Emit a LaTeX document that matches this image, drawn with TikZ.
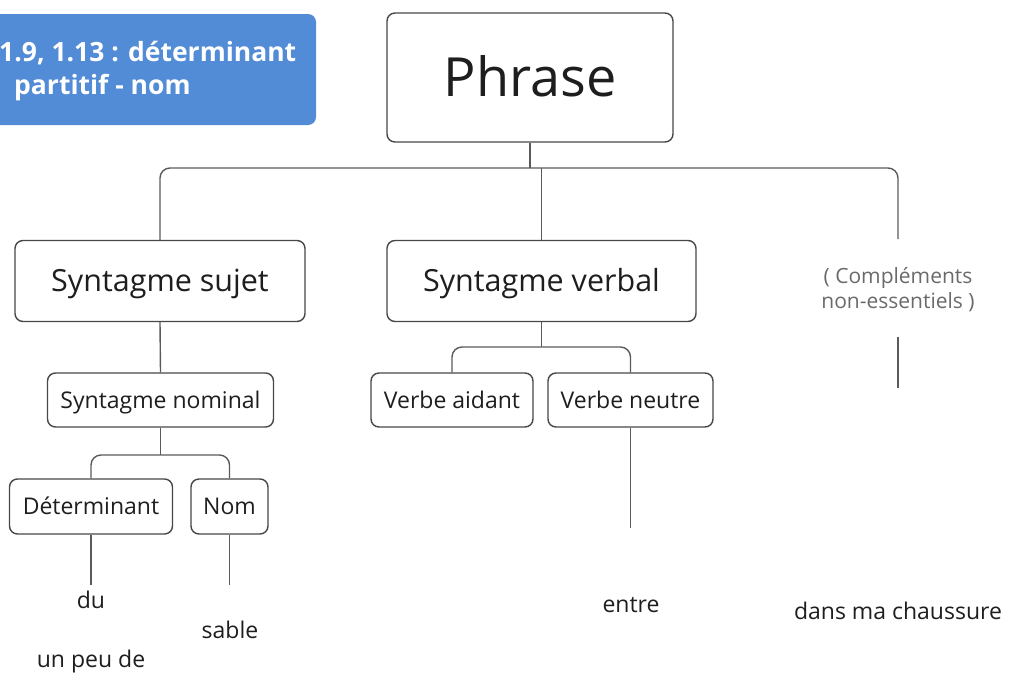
\documentclass[tikz,border=0pt]{standalone}
\usepackage{fontspec}
\setmainfont{Open Sans}
\definecolor{boxc}{HTML}{474747}
\definecolor{linec}{HTML}{5A5A5A}
\definecolor{txt}{HTML}{1E1E1E}
\definecolor{grayt}{HTML}{6A6A6A}
\definecolor{bluec}{HTML}{528BD6}
\tikzset{
  box/.style={draw=boxc, line width=1.4pt, rounded corners=8pt, inner sep=0pt, text=txt, anchor=center, text depth=0pt},
  bigbox/.style={box, font=\fontsize{54}{60}\selectfont, text height=38.6pt},
  midbox/.style={box, font=\fontsize{30.5}{34}\selectfont, text height=21.8pt},
  smallbox/.style={box, font=\fontsize{23}{27}\selectfont, text height=16.4pt},
  conn/.style={draw=linec, line width=1.4pt, rounded corners=10pt},
  word/.style={text=txt, inner sep=0pt, anchor=base, font=\fontsize{23}{27}\selectfont},
  tagtext/.style={text=white, anchor=base west, inner sep=0pt, font=\fontsize{26.5}{30}\bfseries\selectfont},
}
\begin{document}
\begin{tikzpicture}[x=1pt,y=-1pt]
\useasboundingbox (0,0) rectangle (1009,686);
% title tag
\node[fill=bluec, rounded corners=8pt, minimum width=330pt, minimum height=111pt, inner sep=0pt] (tag) at (151,69.5) {};
\node[tagtext] (tag1) at (-1,61) {1.9, 1.13 : déterminant};
\node[tagtext] (tag2) at (14,94) {partitif - nom};
% boxes
\node[bigbox, minimum width=286pt, minimum height=129pt] (phrase) at (530,77.5) {Phrase};
\node[midbox, minimum width=290pt, minimum height=81pt] (sujet) at (160,281) {Syntagme sujet};
\node[midbox, minimum width=309pt, minimum height=81pt] (verbal) at (541.5,281) {Syntagme verbal};
\node[smallbox, minimum width=226pt, minimum height=54pt] (nominal) at (160.5,400) {Syntagme nominal};
\node[smallbox, minimum width=163pt, minimum height=55pt] (det) at (91,506.5) {Déterminant};
\node[smallbox, minimum width=77pt, minimum height=55pt] (nom) at (229.5,506.5) {Nom};
\node[smallbox, minimum width=162pt, minimum height=54pt] (aidant) at (452,400) {Verbe aidant};
\node[smallbox, minimum width=165pt, minimum height=54pt] (neutre) at (630.5,400) {Verbe neutre};
% complements
\node[text=grayt, align=center, inner sep=0pt, font=\fontsize{21}{25}\selectfont] (comp) at (898,290) {( Compléments\\non-essentiels )};
% words
\node[word] (du) at (91,608) {du};
\node[word] (sable) at (230,638) {sable};
\node[word] (unpeu) at (91,667) {un peu de};
\node[word] (entre) at (631,612) {entre};
\node[word] (dans) at (898,619) {dans ma chaussure};
% coordinates
\coordinate (j1) at (530,168);
\coordinate (c1) at (898,239);
\coordinate (c2) at (898,337);
\coordinate (c3) at (898,388);
\coordinate (j2) at (160.5,455);
\coordinate (j3) at (541.5,347);
\coordinate (detend) at (91,585);
\coordinate (nomend) at (229.5,585);
\coordinate (neutend) at (630.5,528);
% connectors
\draw[conn] (phrase.south) -- (j1);
\draw[conn] (sujet.north) |- (j1);
\draw[conn] (c1) |- (j1);
\draw[conn] (verbal.north) -- (verbal.north |- j1);
\draw[conn] (c2) -- (c3);
\draw[conn] (sujet.south) -- (nominal.north);
\draw[conn] (nominal.south) -- (j2);
\draw[conn] (det.north) |- (j2);
\draw[conn] (nom.north) |- (j2);
\draw[conn] (det.south) -- (detend);
\draw[conn] (nom.south) -- (nomend);
\draw[conn] (verbal.south) -- (j3);
\draw[conn] (aidant.north) |- (j3);
\draw[conn] (neutre.north) |- (j3);
\draw[conn] (neutre.south) -- (neutend);
\end{tikzpicture}
\end{document}
